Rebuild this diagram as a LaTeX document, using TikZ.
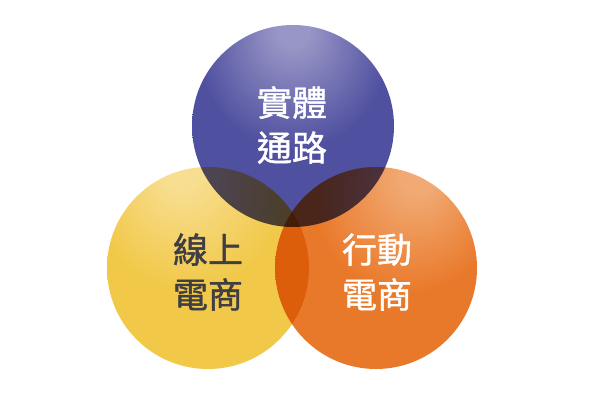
\documentclass[tikz,border=0pt]{standalone}
\usepackage{fontspec}
\newfontfamily\cjk[FakeBold=1.2]{Noto Sans CJK TC}
\definecolor{pbase}{HTML}{5050A0}
\definecolor{plight}{HTML}{9896C6}
\definecolor{pedge}{HTML}{4A4A98}
\definecolor{ybase}{HTML}{F1C848}
\definecolor{ylight}{HTML}{F8DE90}
\definecolor{yedge}{HTML}{EEC23E}
\definecolor{obase}{HTML}{E9792A}
\definecolor{olight}{HTML}{F1AA74}
\definecolor{oedge}{HTML}{E67326}
\definecolor{darktext}{HTML}{3E3E44}
\pgfdeclareradialshading{purpleball}{\pgfpoint{0bp}{25bp}}{color(0bp)=(plight); color(4bp)=(plight); color(23bp)=(pbase); color(70bp)=(pbase); color(76bp)=(pedge)}
\pgfdeclareradialshading{yellowball}{\pgfpoint{-7bp}{25bp}}{color(0bp)=(ylight); color(4bp)=(ylight); color(23bp)=(ybase); color(70bp)=(ybase); color(76bp)=(yedge)}
\pgfdeclareradialshading{orangeball}{\pgfpoint{11bp}{24bp}}{color(0bp)=(olight); color(4bp)=(olight); color(23bp)=(obase); color(70bp)=(obase); color(76bp)=(oedge)}
\tikzset{
  ball/.style={circle, minimum size=202pt, inner sep=0pt, draw=none},
  label/.style={font=\cjk\fontsize{35pt}{45pt}\selectfont, align=center, inner sep=0pt}
}
\begin{document}
\begin{tikzpicture}[x=1pt,y=1pt]
\useasboundingbox (0,0) rectangle (600,400);
\fill[white] (0,0) rectangle (600,400);
\begin{scope}[blend group=multiply]
  \node[ball, shading=yellowball] (online) at (208,132) {};
  \node[ball, shading=orangeball] (mobile) at (376,132) {};
  \node[ball, shading=purpleball] (physical) at (293,274) {};
\end{scope}
\node[label, text=white] (tphys) at (292,275) {實體\\通路};
\node[label, text=darktext] (tonline) at (208,128) {線上\\電商};
\node[label, text=white] (tmobile) at (377,128) {行動\\電商};
\end{tikzpicture}
\end{document}
